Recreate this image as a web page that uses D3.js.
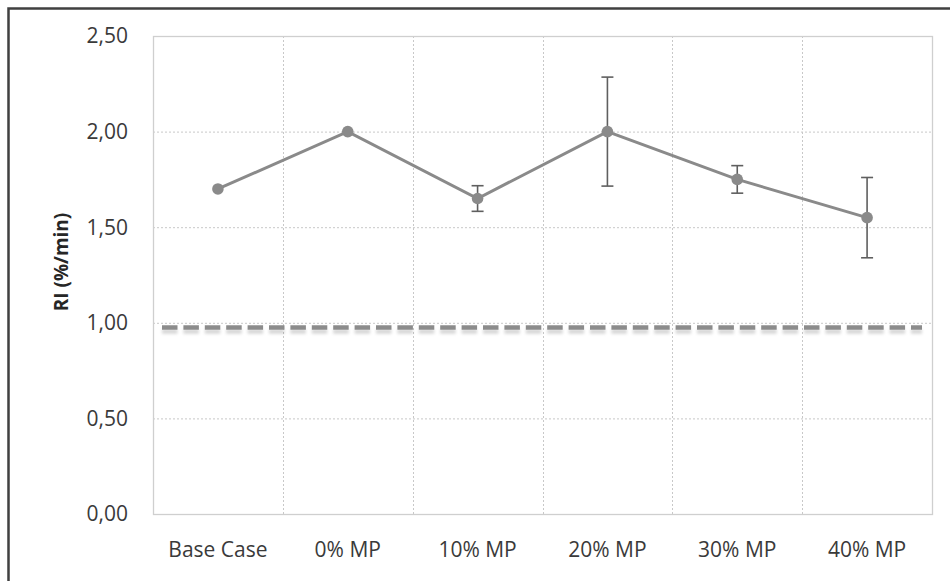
<!DOCTYPE html>
<html lang="en">
  <head>
    <meta charset="utf-8">
    <title>RI per case</title>
    <script src="https://d3js.org/d3.v7.min.js"></script>
    <style type="text/css">
body,html{
    margin: 0;
    padding: 0;
    background: #fff;
    font-family: "Open Sans", "Noto Sans", sans-serif;
  }
  .tick-label{
    fill: #3a3a3a;
    font-size: 21px;
  }
  .ytitle{
    fill: #262626;
    font-size: 19px;
    font-weight: bold;
  }
    </style>
  </head>
  <body>
    <script type="text/javascript">

      var w = 950;
      var h = 581;

      // data
      var categories = ["Base Case", "0% MP", "10% MP", "20% MP", "30% MP", "40% MP"];
      var riValues = [1.70, 2.00, 1.65, 2.00, 1.75, 1.55];
      var riErrors = [0, 0, 0.067, 0.285, 0.072, 0.21];
      var refValue = 0.975;
      var yTicks = [0, 0.5, 1.0, 1.5, 2.0, 2.5];

      var plot = { left: 153, right: 932, top: 36, bottom: 514 };

      var svg = d3.select("body")
        .append("svg")
        .attr("width", w)
        .attr("height", h);

      // outer chart border (cropped on the right and bottom)
      svg.append("rect")
        .attr("x", 8.5)
        .attr("y", 8.5)
        .attr("width", w + 20)
        .attr("height", h + 20)
        .attr("fill", "#fff")
        .attr("stroke", "#404040")
        .attr("stroke-width", 2.5);

      var x = d3.scaleBand()
        .domain(categories)
        .range([plot.left, plot.right])
        .padding(0);

      var y = d3.scaleLinear()
        .domain([0, 2.5])
        .range([plot.bottom, plot.top]);

      function cx(c) { return x(c) + x.bandwidth() / 2; }

      // soft shadow under the reference line
      var defs = svg.append("defs");
      var shadow = defs.append("filter")
        .attr("id", "shadow")
        .attr("filterUnits", "userSpaceOnUse")
        .attr("x", plot.left).attr("y", y(refValue) - 15)
        .attr("width", plot.right - plot.left).attr("height", 30);
      shadow.append("feGaussianBlur")
        .attr("in", "SourceAlpha")
        .attr("stdDeviation", 1.8)
        .attr("result", "blur");
      shadow.append("feOffset")
        .attr("in", "blur")
        .attr("dy", 3.5)
        .attr("result", "off");
      shadow.append("feFlood")
        .attr("flood-color", "#000")
        .attr("flood-opacity", 0.16);
      shadow.append("feComposite")
        .attr("in2", "off")
        .attr("operator", "in")
        .attr("result", "sh");
      var merge = shadow.append("feMerge");
      merge.append("feMergeNode").attr("in", "sh");
      merge.append("feMergeNode").attr("in", "SourceGraphic");

      // gridlines
      svg.append("g")
        .selectAll("line")
        .data(yTicks.slice(1, -1))
        .enter()
        .append("line")
        .attr("x1", plot.left).attr("x2", plot.right)
        .attr("y1", function(d){ return y(d) + 0.5; })
        .attr("y2", function(d){ return y(d) + 0.5; })
        .attr("stroke", "#c8c8c8")
        .attr("stroke-dasharray", "2,2");

      svg.append("g")
        .selectAll("line")
        .data(categories.slice(1))
        .enter()
        .append("line")
        .attr("x1", function(d){ return Math.round(x(d)) + 0.5; })
        .attr("x2", function(d){ return Math.round(x(d)) + 0.5; })
        .attr("y1", plot.top).attr("y2", plot.bottom)
        .attr("stroke", "#c8c8c8")
        .attr("stroke-dasharray", "2,2");

      // plot area border
      svg.append("rect")
        .attr("x", plot.left + 0.5)
        .attr("y", plot.top + 0.5)
        .attr("width", plot.right - plot.left)
        .attr("height", plot.bottom - plot.top)
        .attr("fill", "none")
        .attr("stroke", "#cfcfcf")
        .attr("stroke-width", 1.3);

      // y tick labels
      svg.append("g")
        .selectAll("text")
        .data(yTicks)
        .enter()
        .append("text")
        .attr("class", "tick-label")
        .attr("x", 128)
        .attr("y", function(d){ return y(d); })
        .attr("dy", "0.35em")
        .attr("text-anchor", "end")
        .text(function(d){ return d3.format(".2f")(d).replace(".", ","); });

      // x tick labels
      svg.append("g")
        .selectAll("text")
        .data(categories)
        .enter()
        .append("text")
        .attr("class", "tick-label")
        .attr("x", function(d){ return cx(d); })
        .attr("y", 550)
        .attr("dy", "0.35em")
        .attr("text-anchor", "middle")
        .text(function(d){ return d; });

      // y axis title
      svg.append("text")
        .attr("class", "ytitle")
        .attr("transform", "translate(61," + 262 + ") rotate(-90)")
        .attr("dy", "0.35em")
        .attr("text-anchor", "middle")
        .text("RI (%/min)");

      // reference dashed line
      svg.append("line")
        .attr("x1", plot.left + 9)
        .attr("x2", plot.right - 10)
        .attr("y1", y(refValue))
        .attr("y2", y(refValue))
        .attr("stroke", "#8c8c8c")
        .attr("stroke-width", 4.5)
        .attr("stroke-dasharray", "15.5,5.9")
        .attr("filter", "url(#shadow)");

      // series line
      var line = d3.line()
        .x(function(d, i){ return cx(categories[i]); })
        .y(function(d){ return y(d); });

      svg.append("path")
        .datum(riValues)
        .attr("d", line)
        .attr("fill", "none")
        .attr("stroke", "#8a8a8a")
        .attr("stroke-width", 3);

      // error bars
      var eb = svg.append("g")
        .selectAll("g")
        .data(riValues.map(function(v, i){ return { c: categories[i], v: v, e: riErrors[i] }; })
          .filter(function(d){ return d.e > 0; }))
        .enter()
        .append("g")
        .attr("stroke", "#5f5f5f")
        .attr("stroke-width", 1.6);

      eb.append("line")
        .attr("x1", function(d){ return cx(d.c); })
        .attr("x2", function(d){ return cx(d.c); })
        .attr("y1", function(d){ return y(d.v + d.e); })
        .attr("y2", function(d){ return y(d.v - d.e); });
      eb.append("line")
        .attr("x1", function(d){ return cx(d.c) - 6; })
        .attr("x2", function(d){ return cx(d.c) + 6; })
        .attr("y1", function(d){ return y(d.v + d.e); })
        .attr("y2", function(d){ return y(d.v + d.e); });
      eb.append("line")
        .attr("x1", function(d){ return cx(d.c) - 6; })
        .attr("x2", function(d){ return cx(d.c) + 6; })
        .attr("y1", function(d){ return y(d.v - d.e); })
        .attr("y2", function(d){ return y(d.v - d.e); });

      // markers
      svg.append("g")
        .selectAll("circle")
        .data(riValues)
        .enter()
        .append("circle")
        .attr("cx", function(d, i){ return cx(categories[i]); })
        .attr("cy", function(d){ return y(d); })
        .attr("r", 5.8)
        .attr("fill", "#8a8a8a");

    </script>
  </body>
</html>
